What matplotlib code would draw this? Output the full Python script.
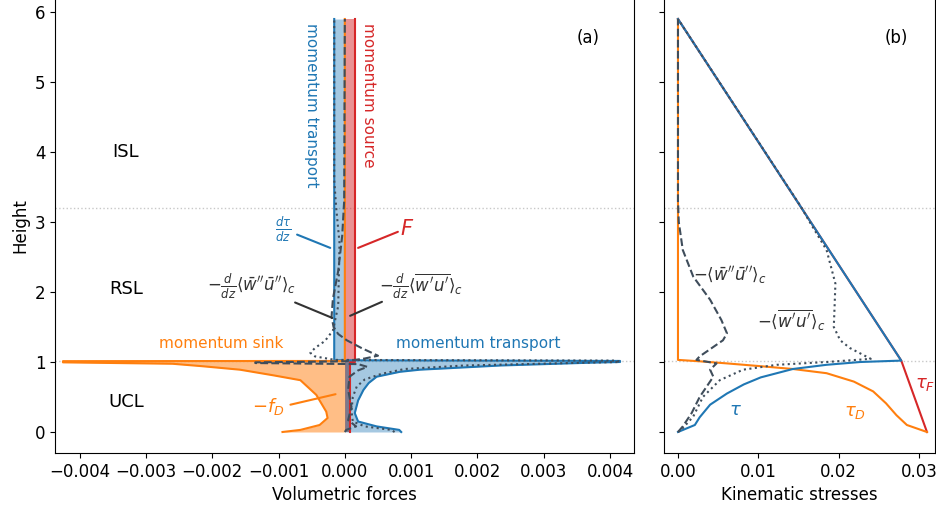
import matplotlib
matplotlib.use("Agg")
import matplotlib.pyplot as plt

# ── data: panel (a) volumetric forces ─────────────────────────────────────────
Z_RSL = 3.2
Z_CAN = 1.02

# dtau/dz (blue)
Z_DTAU = [0, 0.03, 0.08, 0.15, 0.27, 0.45, 0.6, 0.7, 0.79, 0.86, 0.89, 0.95,
          0.99, 1.0, 1.015, 1.025, 5.9]
DTAU = [0.00085, 0.00082, 0.00048, 0.0002, 0.00015, 0.0002, 0.00028, 0.00036,
        0.00048, 0.00083, 0.00113, 0.00235, 0.0037, 0.00415, 0.00415,
        -0.00016, -0.00016]

# -f_D (orange)
Z_FD = [0, 0.03, 0.1, 0.2, 0.29, 0.53, 0.74, 0.81, 0.89, 0.94, 0.975, 0.995,
        1.012, 1.015, 5.9]
MFD = [-0.00094, -0.00067, -0.00038, -0.00026, -0.00028, -0.00043, -0.00067,
       -0.00108, -0.00158, -0.00215, -0.0026, -0.00425, -0.00425, 0.0, 0.0]

# F (red)
Z_F = [0, 1.0, 1.0, 5.9]
FSRC = [0.000083, 0.000083, 0.00016, 0.00016]

# -d/dz <w'u'>_c (dotted)
Z_TW = [0, 0.03, 0.08, 0.15, 0.3, 0.5, 0.65, 0.75, 0.83, 0.9, 0.95, 0.99, 1.0,
        1.02, 1.03, 1.08, 1.13, 1.2, 1.3, 1.45, 1.8, 2.7, 3.2, 3.6, 5.9]
DTW = [0.00075, 0.0007, 0.0003, 0.00012, 0.0001, 0.00012, 0.00018, 0.0003,
       0.00055, 0.0009, 0.0018, 0.0036, 0.00415, 0.0041, -0.00015, -0.00045,
       -0.00052, -0.00045, -0.0003, -0.00018, -0.0001, -0.00008, -0.00013,
       -0.00016, -0.00016]

# -d/dz <w''u''>_c (dashed)
Z_DW = [0, 0.03, 0.08, 0.17, 0.36, 0.6, 0.79, 0.88, 0.93, 0.97, 0.985, 0.995,
        1.01, 1.05, 1.09, 1.2, 1.31, 1.4, 1.5, 1.65, 1.9, 2.3, 2.8, 3.3, 5.9]
DDW = [0, 0.00002, 0.00017, 0.00005, 0.0001, 0.00005, 0.00007, 0.0002,
       0.00034, 0.0002, -0.00135, -0.00135, 0.0, 0.0003, 0.0005, 0.00025,
       0.00003, -0.0001, -0.00017, -0.0002, -0.00018, -0.0001, -0.00004,
       -0.00001, 0]

# ── data: panel (b) kinematic stresses ────────────────────────────────────────
Z_TAU = [0, 0.1, 0.21, 0.39, 0.55, 0.68, 0.78, 0.9, 0.96, 1.0, 1.02, 5.9]
TAU = [0, 0.0021, 0.0027, 0.004, 0.0061, 0.0082, 0.0103, 0.0143, 0.0185,
       0.0227, 0.0278, 0]

Z_TAUF = [0, 1.02, 5.9]
TAUF = [0.031, 0.0278, 0]

Z_TAUD = [0, 0.1, 0.24, 0.41, 0.58, 0.72, 0.84, 0.9, 0.94, 0.98, 1.01, 1.03, 5.9]
TAUD = [0.031, 0.0285, 0.0272, 0.0259, 0.0243, 0.0219, 0.0185, 0.0143, 0.0103,
        0.0061, 0.0027, 0, 0]

Z_WU = [0, 0.03, 0.22, 0.5, 0.74, 0.89, 0.96, 1.0, 1.045, 1.2, 1.31, 1.5, 1.8,
        2.12, 2.6, 3.0, 3.22, 5.9]
WU = [0, 0.0004, 0.0019, 0.0031, 0.0052, 0.0081, 0.0123, 0.0185, 0.024, 0.0214,
      0.0202, 0.0194, 0.0195, 0.0196, 0.0185, 0.0164, 0.0153, 0]

Z_DU = [0, 0.08, 0.27, 0.5, 0.79, 0.89, 0.98, 1.03, 1.08, 1.31, 1.41, 1.6,
        1.89, 2.22, 2.6, 3.0, 3.3, 5.9]
DU = [0, 0.0006, 0.0017, 0.0027, 0.0044, 0.004, 0.0048, 0.0023, 0.0027,
      0.0056, 0.0061, 0.0054, 0.004, 0.0019, 0.0006, 0.0001, 0, 0]

# ── style ─────────────────────────────────────────────────────────────────────
C_BLUE = "#1f77b4"
C_ORANGE = "#ff7f0e"
C_RED = "#d62728"
C_GREY = "#3f4d5b"
C_TXT = "#333333"
C_REF = "#c8c8c8"

plt.rcParams["font.size"] = 12
plt.rcParams["xtick.labelsize"] = 12
plt.rcParams["ytick.labelsize"] = 12

fig = plt.figure(figsize=(9.36, 5.13), dpi=100)
ax = fig.add_axes([55 / 936, 60 / 513, 579 / 936, 455 / 513])
bx = fig.add_axes([664 / 936, 60 / 513, 271 / 936, 455 / 513], sharey=ax)

NOLINE = dict(arrowstyle="-", lw=1.5, shrinkA=0, shrinkB=0)

# ── panel (a) ─────────────────────────────────────────────────────────────────
ax.fill_betweenx(Z_F, 0, FSRC, color=C_RED, alpha=0.5, lw=0)
ax.fill_betweenx(Z_DTAU, 0, DTAU, color=C_BLUE, alpha=0.4, lw=0)
ax.fill_betweenx(Z_FD, 0, MFD, color=C_ORANGE, alpha=0.5, lw=0)
ax.fill_betweenx([0, 1.0], 0, FSRC[0], color="#5a6878", alpha=0.45, lw=0)

ax.plot(FSRC, Z_F, color=C_RED, lw=1.5)
ax.plot(DTAU, Z_DTAU, color=C_BLUE, lw=1.5)
ax.plot(MFD, Z_FD, color=C_ORANGE, lw=1.5)
ax.plot(DTW, Z_TW, color=C_GREY, lw=1.5, ls=":")
ax.plot(DDW, Z_DW, color=C_GREY, lw=1.5, ls="--")

for zz in (Z_CAN, Z_RSL):
    ax.axhline(zz, color=C_REF, lw=1, ls=":", zorder=0)
    bx.axhline(zz, color=C_REF, lw=1, ls=":", zorder=0)

ax.set_xlim(-0.00437, 0.00436)
ax.set_ylim(-0.3, 6.2)
ax.set_xticks([-0.004, -0.003, -0.002, -0.001, 0.0, 0.001, 0.002, 0.003, 0.004])
ax.set_xticklabels(["\u22120.004", "\u22120.003", "\u22120.002", "\u22120.001",
                    "0.000", "0.001", "0.002", "0.003", "0.004"])
ax.set_yticks([0, 1, 2, 3, 4, 5, 6])
ax.set_xlabel("Volumetric forces")
ax.set_ylabel("Height")
ax.spines["top"].set_visible(False)

ax.text(0.92, 0.912, "(a)", transform=ax.transAxes, ha="center", va="center")
ax.text(-0.0033, 4.0, "ISL", ha="center", va="center", fontsize=13)
ax.text(-0.0033, 2.04, "RSL", ha="center", va="center", fontsize=13)
ax.text(-0.0033, 0.43, "UCL", ha="center", va="center", fontsize=13)

ax.text(-0.0005, 4.67, "momentum transport", color=C_BLUE, rotation=-90,
        ha="center", va="center", fontsize=11)
ax.text(0.00036, 4.81, "momentum source", color=C_RED, rotation=-90,
        ha="center", va="center", fontsize=11)
ax.text(-0.00186, 1.26, "momentum sink", color=C_ORANGE, ha="center",
        va="center", fontsize=11)
ax.text(0.00201, 1.26, "momentum transport", color=C_BLUE, ha="center",
        va="center", fontsize=11)

ax.text(-0.00093, 2.89, r"$\frac{d\tau}{dz}$", color=C_BLUE, ha="center",
        va="center", fontsize=12)
ax.annotate("", xy=(-0.00022, 2.63), xytext=(-0.00072, 2.82),
            arrowprops=dict(color=C_BLUE, **NOLINE))
ax.text(0.00094, 2.9, r"$F$", color=C_RED, ha="center", va="center",
        fontsize=15)
ax.annotate("", xy=(0.0002, 2.63), xytext=(0.0008, 2.86),
            arrowprops=dict(color=C_RED, **NOLINE))

ax.text(-0.0014, 2.08,
        r"$-\frac{d}{dz}\langle\bar{w}^{\prime\prime}\bar{u}^{\prime\prime}\rangle_c$",
        color=C_TXT, ha="center", va="center", fontsize=12)
ax.annotate("", xy=(-0.00019, 1.63), xytext=(-0.00075, 1.85),
            arrowprops=dict(color=C_TXT, **NOLINE))
ax.text(0.00052, 2.08,
        r"$-\frac{d}{dz}\langle\overline{w^\prime u^\prime}\rangle_c$",
        color=C_TXT, ha="left", va="center", fontsize=12)
ax.annotate("", xy=(0.00008, 1.66), xytext=(0.00056, 1.86),
            arrowprops=dict(color=C_TXT, **NOLINE))

ax.text(-0.00116, 0.36, r"$-f_D$", color=C_ORANGE, ha="center", va="center",
        fontsize=13)
ax.annotate("", xy=(-0.00014, 0.54), xytext=(-0.00082, 0.39),
            arrowprops=dict(color=C_ORANGE, **NOLINE))

# ── panel (b) ─────────────────────────────────────────────────────────────────
bx.plot(TAUF, Z_TAUF, color=C_RED, lw=1.5)
bx.plot(TAUD, Z_TAUD, color=C_ORANGE, lw=1.5)
bx.plot(TAU, Z_TAU, color=C_BLUE, lw=1.5)
bx.plot(WU, Z_WU, color=C_GREY, lw=1.5, ls=":")
bx.plot(DU, Z_DU, color=C_GREY, lw=1.5, ls="--")

bx.set_xlim(-0.00174, 0.032)
bx.set_xticks([0.0, 0.01, 0.02, 0.03])
bx.set_xticklabels(["0.00", "0.01", "0.02", "0.03"])
bx.set_xlabel("Kinematic stresses")
bx.tick_params(axis="y", labelleft=False)
bx.spines["top"].set_visible(False)

bx.text(0.856, 0.912, "(b)", transform=bx.transAxes, ha="center", va="center")
bx.text(0.0019, 2.24,
        r"$-\langle\bar{w}^{\prime\prime}\bar{u}^{\prime\prime}\rangle_c$",
        color=C_TXT, ha="left", va="center", fontsize=12)
bx.text(0.0098, 1.6, r"$-\langle\overline{w^\prime u^\prime}\rangle_c$",
        color=C_TXT, ha="left", va="center", fontsize=12)
bx.text(0.0071, 0.31, r"$\tau$", color=C_BLUE, ha="center", va="center",
        fontsize=13)
bx.text(0.022, 0.29, r"$\tau_D$", color=C_ORANGE, ha="center", va="center",
        fontsize=13)
bx.text(0.0308, 0.68, r"$\tau_F$", color=C_RED, ha="center", va="center",
        fontsize=13)

fig.savefig("out.png", dpi=100)
plt.close(fig)
